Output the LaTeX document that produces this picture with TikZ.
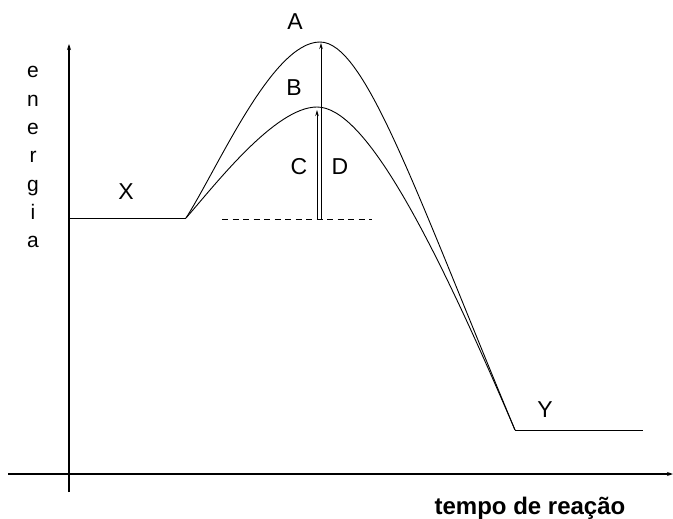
\documentclass[tikz,border=0pt]{standalone}
\usepackage{fontspec}
\setmainfont{Liberation Sans}
\usetikzlibrary{arrows.meta}
\begin{document}
\begin{tikzpicture}[x=1pt,y=-1pt,
  lbl/.style={font=\fontsize{23}{23}\selectfont, inner sep=0pt},
  vlet/.style={font=\fontsize{21}{21}\selectfont, inner sep=0pt, anchor=base},
  axis/.style={line width=1.2pt, -{Stealth[length=6pt,width=4pt]}},
  curve/.style={line width=0.9pt},
  arr/.style={line width=0.9pt, -{Stealth[length=6pt,width=3.5pt]}},
  plateau/.style={line width=1pt}]
\useasboundingbox (0,0) rectangle (673,519);
% axes
\coordinate (yb) at (69,492);
\coordinate (yt) at (69,44);
\coordinate (xl) at (8,474);
\coordinate (xr) at (673,474);
\draw[axis] (yb) -- (yt);
\draw[axis] (xl) -- (xr);
% key points
\coordinate (x0) at (69,218);
\coordinate (s) at (186,218);
\coordinate (pa) at (320,42);
\coordinate (pb) at (317,107);
\coordinate (e) at (515,430);
\coordinate (y1) at (643,430);
% plateaus
\draw[plateau] (x0) -- (s);
\draw[plateau] (e) -- (y1);
% curves
\draw[curve] (s) .. controls (218,168) and (272,42) .. (pa)
                 .. controls (365,42) and (415,190) .. (e);
\draw[curve] (s) .. controls (215,185) and (275,107) .. (pb)
                 .. controls (365,107) and (432,236) .. (e);
% dashed baseline
\coordinate (d1) at (222,219);
\coordinate (d2) at (372,219);
\draw[line width=0.9pt, dash pattern=on 6pt off 4.5pt] (d1) -- (d2);
% arrows
\coordinate (la0) at (321,219);
\coordinate (la1) at (321,43);
\coordinate (sa0) at (317,219);
\coordinate (sa1) at (317,110);
\draw[arr] (la0) -- (la1);
\draw[arr] (sa0) -- (sa1);
% labels
\node[lbl] (A) at (295,22) {A};
\node[lbl] (B) at (294,88) {B};
\node[lbl] (C) at (299,167) {C};
\node[lbl] (D) at (340,167) {D};
\node[lbl] (X) at (126,192) {X};
\node[lbl] (Y) at (545,410) {Y};
% energia
\node[vlet] (l1) at (33,78) {e};
\node[vlet] (l2) at (33,106.3) {n};
\node[vlet] (l3) at (33,134.6) {e};
\node[vlet] (l4) at (33,162.9) {r};
\node[vlet] (l5) at (33,191.2) {g};
\node[vlet] (l6) at (33,219.5) {i};
\node[vlet] (l7) at (33,247.8) {a};
% x label
\node[font=\fontsize{24}{24}\selectfont\bfseries, inner sep=0pt, anchor=base] (t) at (530,514) {tempo de reação};
\end{tikzpicture}
\end{document}
